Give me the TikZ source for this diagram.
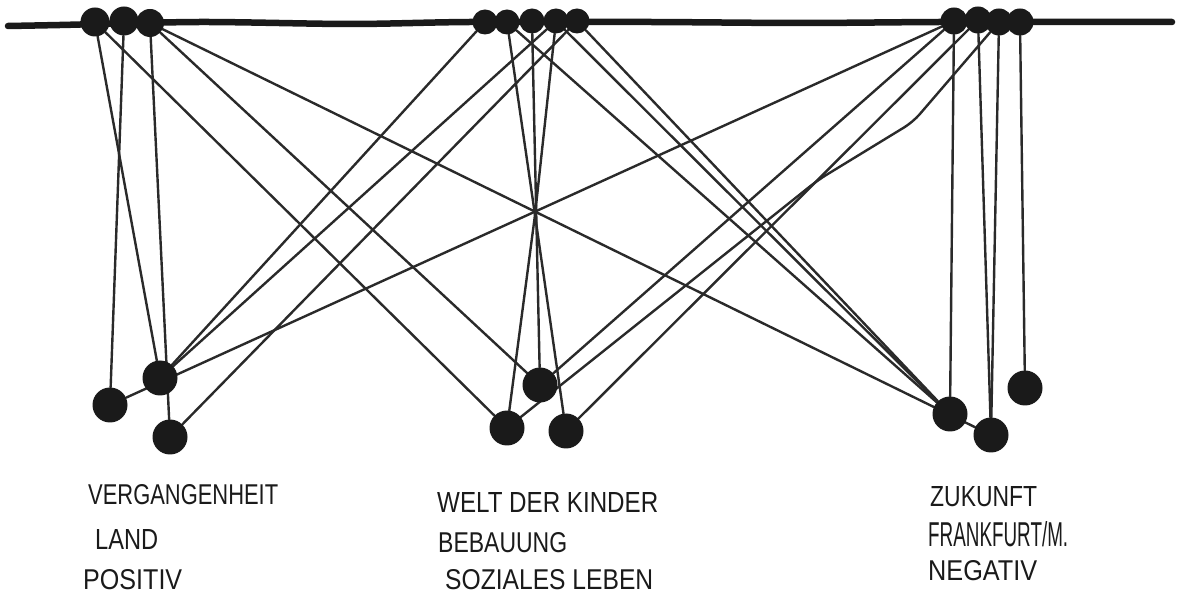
\documentclass[tikz,border=0pt]{standalone}
\usepackage{fontspec}
\setmainfont{Liberation Sans}
\usepackage{graphicx}
\usetikzlibrary{backgrounds}
\definecolor{ink}{HTML}{1A1A1A}
\definecolor{thread}{HTML}{2A2A2A}
\newcommand{\lbl}[3][20]{\resizebox{#2pt}{#1pt}{#3}}
\begin{document}
\begin{tikzpicture}[x=1pt,y=-1pt,
  string/.style={line width=2.4pt, draw=thread, line cap=round, line join=round},
  rope/.style={line width=6.5pt, draw=ink, line cap=round},
  knot/.style={circle, fill=ink, inner sep=0pt, minimum size=#1pt},
  knot/.default=27,
  ball/.style={circle, fill=ink, inner sep=0pt, minimum size=35pt},
  lab/.style={anchor=west, inner sep=0pt, text=ink}]
\useasboundingbox (0,0) rectangle (1181,601);

% knots on the rope
\node[knot=29] (l1) at (95,22) {};
\node[knot=29] (l2) at (124,21) {};
\node[knot=28] (l3) at (150,23) {};
\node[knot=25] (m1) at (485,22) {};
\node[knot=25] (m2) at (507,22) {};
\node[knot=25] (m3) at (532,21) {};
\node[knot=25] (m4) at (556,21) {};
\node[knot=25] (m5) at (577,21) {};
\node[knot] (r1) at (954,21) {};
\node[knot] (r2) at (978,20) {};
\node[knot] (r3) at (999,22) {};
\node[knot] (r4) at (1020,22) {};

% hanging balls
\node[ball] (a1) at (110,405) {};
\node[ball] (a2) at (160,378) {};
\node[ball] (a3) at (170,437) {};
\node[ball] (b1) at (540,385) {};
\node[ball] (b2) at (507,428) {};
\node[ball] (b3) at (566,431) {};
\node[ball] (c1) at (950,414) {};
\node[ball] (c2) at (991,435) {};
\node[ball] (c3) at (1025,388) {};

\coordinate (ctr) at (535,215);
\coordinate (j1) at (818,180);
\coordinate (j2) at (913,122);

\begin{pgfonlayer}{background}
\draw[rope] plot[smooth] coordinates {(8,26) (60,25) (200,22) (350,24) (470,22) (650,22) (800,23) (940,22) (1100,22) (1172,22)};
% left cluster
\draw[string] (l1) -- (a2);
\draw[string] (l2) -- (a1);
\draw[string] (l3) -- (a3);
\draw[string] (l1) -- (b2);
\draw[string] (l3) -- (b1);
\draw[string] (l3) -- (c2);
% middle cluster
\draw[string] (m1) -- (a2);
\draw[string] (m4) -- (a2);
\draw[string] (m5) -- (a3);
\draw[string] (m2) -- (ctr) -- (b2);
\draw[string] (m3) -- (b1);
\draw[string] (m4) -- (ctr) -- (b3);
\draw[string] (m2) -- (c1);
\draw[string] (m4) -- (c1);
\draw[string] (m5) -- (c1);
% right cluster
\draw[string] (r1) -- (a1);
\draw[string] (r1) -- (b1);
\draw[string, rounded corners=10pt] (b2) -- (j1) -- (j2) -- (r3);
\draw[string] (r2) -- (b3);
\draw[string] (r1) -- (c1);
\draw[string] (r2) -- (c2);
\draw[string] (r3) -- (c2);
\draw[string] (r4) -- (c3);
\end{pgfonlayer}

% labels
\node[lab] (t1) at (88,495) {\lbl{190}{VERGANGENHEIT}};
\node[lab] (t2) at (95,539) {\lbl{63}{LAND}};
\node[lab] (t3) at (83,580) {\lbl{99}{POSITIV}};
\node[lab] (t4) at (437,502) {\lbl{221}{WELT DER KINDER}};
\node[lab] (t5) at (438,543) {\lbl{129}{BEBAUUNG}};
\node[lab] (t6) at (445,580) {\lbl{208}{SOZIALES LEBEN}};
\node[lab] (t7) at (930,497) {\lbl{107}{ZUKUNFT}};
\node[lab] (t8) at (928,534) {\lbl[25]{140}{FRANKFURT/M.}};
\node[lab] (t9) at (928,571) {\lbl{109}{NEGATIV}};
\end{tikzpicture}
\end{document}
